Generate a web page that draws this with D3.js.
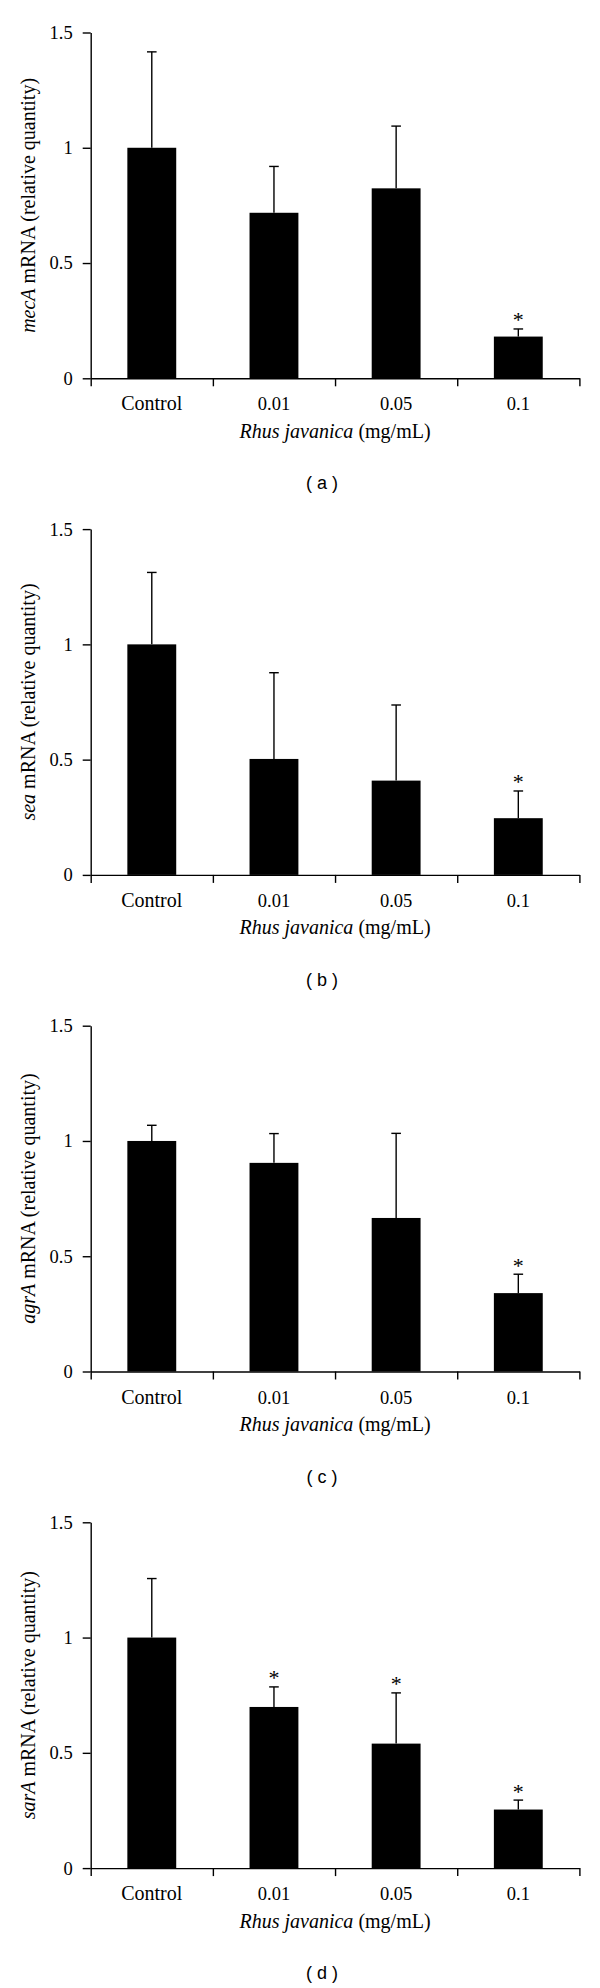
<!DOCTYPE html>
<html>
<head>
<meta charset="utf-8">
<script src="https://cdn.jsdelivr.net/npm/d3@7"></script>
<style>
  html, body { margin: 0; padding: 0; background: #fff; }
  svg { display: block; }
  .serif { font-family: "Liberation Serif", "DejaVu Serif", serif; }
</style>
</head>
<body>
<svg id="chart" width="600" height="1988"></svg>
<script>
// ---------- DATA ----------
const categories = ["Control", "0.01", "0.05", "0.1"];
const genes = ["mecA", "sea", "agrA", "sarA"];
const panelLabels = ["a", "b", "c", "d"];
const yTicks = [0, 0.5, 1, 1.5];
const yTickLabels = ["0", "0.5", "1", "1.5"];

const mecAValues = [1.0, 0.718, 0.824, 0.181];
const mecAErrors = [0.416, 0.201, 0.270, 0.033];
const mecASignif = [false, false, false, true];

const seaValues = [1.0, 0.503, 0.409, 0.246];
const seaErrors = [0.312, 0.374, 0.328, 0.118];
const seaSignif = [false, false, false, true];

const agrAValues = [1.0, 0.905, 0.666, 0.340];
const agrAErrors = [0.068, 0.127, 0.367, 0.082];
const agrASignif = [false, false, false, true];

const sarAValues = [1.0, 0.699, 0.540, 0.254];
const sarAErrors = [0.256, 0.087, 0.220, 0.041];
const sarASignif = [false, true, true, true];

const panels = [
  { gene: genes[0], label: panelLabels[0], values: mecAValues, errors: mecAErrors, signif: mecASignif },
  { gene: genes[1], label: panelLabels[1], values: seaValues, errors: seaErrors, signif: seaSignif },
  { gene: genes[2], label: panelLabels[2], values: agrAValues, errors: agrAErrors, signif: agrASignif },
  { gene: genes[3], label: panelLabels[3], values: sarAValues, errors: sarAErrors, signif: sarASignif }
];

// ---------- LAYOUT ----------
const svg = d3.select("#chart");
const xLeft = 90.7, xRight = 579.4;
const plotH = 345.8;
const panelTop0 = 32.5, panelStep = 496.6;
const tickFont = 18.5, catFont = 20, titleFont = 20;

const x = d3.scaleBand().domain(categories).range([xLeft, xRight])
  .paddingInner(0.6).paddingOuter(0.3);
const xEdges = d3.scaleLinear().domain([0, categories.length]).range([xLeft, xRight]);

panels.forEach((p, i) => {
  const top = panelTop0 + i * panelStep;
  const bottom = top + plotH;
  const y = d3.scaleLinear().domain([0, 1.5]).range([bottom, top]);
  const g = svg.append("g");

  // bars
  g.selectAll("rect.bar").data(categories).join("rect")
    .attr("class", "bar")
    .attr("x", d => x(d))
    .attr("width", x.bandwidth())
    .attr("y", (d, k) => y(p.values[k]))
    .attr("height", (d, k) => bottom - y(p.values[k]))
    .attr("fill", "#000");

  // error bars (upper only)
  const capHalf = 4.8;
  const eb = g.selectAll("g.err").data(categories).join("g").attr("class", "err");
  eb.append("line")
    .attr("x1", d => x(d) + x.bandwidth() / 2)
    .attr("x2", d => x(d) + x.bandwidth() / 2)
    .attr("y1", (d, k) => y(p.values[k]))
    .attr("y2", (d, k) => y(p.values[k] + p.errors[k]))
    .attr("stroke", "#000").attr("stroke-width", 1.4);
  eb.append("line")
    .attr("x1", d => x(d) + x.bandwidth() / 2 - capHalf)
    .attr("x2", d => x(d) + x.bandwidth() / 2 + capHalf)
    .attr("y1", (d, k) => y(p.values[k] + p.errors[k]))
    .attr("y2", (d, k) => y(p.values[k] + p.errors[k]))
    .attr("stroke", "#000").attr("stroke-width", 1.4);

  // significance stars
  g.selectAll("text.star").data(categories.filter((d, k) => p.signif[k])).join("text")
    .attr("class", "serif star")
    .attr("x", d => x(d) + x.bandwidth() / 2)
    .attr("y", d => { const k = categories.indexOf(d); return y(p.values[k] + p.errors[k]) - 1.5; })
    .attr("text-anchor", "middle")
    .attr("font-size", 22)
    .text("*");

  // y axis
  const yAxis = d3.axisLeft(y).tickValues(yTicks)
    .tickFormat((d, k) => yTickLabels[k])
    .tickSize(8).tickSizeOuter(0).tickPadding(10);
  const ya = g.append("g").attr("transform", `translate(${xLeft},0)`).call(yAxis);
  ya.attr("font-family", "Liberation Serif, serif");
  ya.select(".domain").attr("stroke-width", 1.4);
  ya.selectAll(".tick line").attr("stroke-width", 1.4);
  ya.selectAll("text").attr("class", "serif").attr("font-size", tickFont).attr("fill", "#000");

  // x axis with ticks at band edges
  const xAxis = d3.axisBottom(xEdges).tickValues(d3.range(categories.length + 1))
    .tickFormat("").tickSize(8).tickSizeOuter(0);
  const xa = g.append("g").attr("transform", `translate(0,${bottom})`).call(xAxis);
  xa.select(".domain").attr("stroke-width", 1.4);
  xa.selectAll(".tick line").attr("stroke-width", 1.4);

  // category labels
  g.selectAll("text.cat").data(categories).join("text")
    .attr("class", "serif cat")
    .attr("x", d => x(d) + x.bandwidth() / 2)
    .attr("y", bottom + 32)
    .attr("text-anchor", "middle")
    .attr("font-size", d => d === "Control" ? catFont : tickFont)
    .text(d => d);

  // x axis title
  const xt = g.append("text").attr("class", "serif")
    .attr("x", (xLeft + xRight) / 2).attr("y", bottom + 59.5)
    .attr("text-anchor", "middle").attr("font-size", titleFont);
  xt.append("tspan").attr("font-style", "italic").text("Rhus javanica");
  xt.append("tspan").text(" (mg/mL)");

  // y axis title
  const yt = g.append("text").attr("class", "serif")
    .attr("transform", `translate(35,${(top + bottom) / 2}) rotate(-90)`)
    .attr("text-anchor", "middle").attr("font-size", titleFont);
  yt.append("tspan").attr("font-style", "italic").text(p.gene);
  yt.append("tspan").text(" mRNA (relative quantity)");

  // panel label
  g.append("text")
    .attr("x", 322).attr("y", bottom + 111)
    .attr("text-anchor", "middle")
    .attr("font-family", "Liberation Sans, Arial, sans-serif")
    .attr("font-size", 18)
    .text(`( ${p.label} )`);
});
</script>
</body>
</html>
